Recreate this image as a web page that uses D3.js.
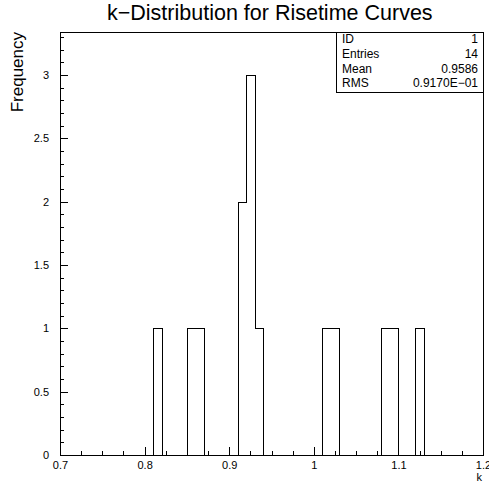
<!doctype html>
<html>
<head>
<script src="https://cdn.jsdelivr.net/npm/d3@7"></script>
<style>
  body { margin: 0; background: #fff; }
  text { font-family: "Liberation Sans", Arial, sans-serif; fill: #000; }
</style>
</head>
<body>
<svg width="489" height="483"></svg>
<script>
// histogram: 50 bins of 0.01 from 0.7 to 1.2
var xMin = 0.7, xMax = 1.2, binWidth = 0.01;
var counts = [
  0,0,0,0,0,0,0,0,0,0,   // 0.70 - 0.80
  0,1,0,0,0,1,1,0,0,0,   // 0.80 - 0.90
  0,2,3,1,0,0,0,0,0,0,   // 0.90 - 1.00
  0,1,1,0,0,0,0,0,1,1,   // 1.00 - 1.10
  0,0,1,0,0,0,0,0,0,0    // 1.10 - 1.20
];
var xTicks = [0.7, 0.8, 0.9, 1, 1.1, 1.2];
var yTicks = [0, 0.5, 1, 1.5, 2, 2.5, 3];
var yMax = 3.34;

var statLabels = ["ID", "Entries", "Mean", "RMS"];
var statValues = ["1", "14", "0.9586", "0.9170E\u221201"];

var svg = d3.select("svg"),
    padL = 60, padR = 483, padT = 32, padB = 455;

var xScale = d3.scaleLinear().domain([xMin, xMax]).range([padL, padR]),
    yScale = d3.scaleLinear().domain([0, yMax]).range([padB, padT]);

// title
svg.append("text")
  .attr("x", 107).attr("y", 20)
  .style("font-size", "21.5px")
  .text("k\u2212Distribution for Risetime Curves");

// axis labels
svg.append("text")
  .attr("text-anchor", "end")
  .attr("transform", "translate(23," + padT + ")rotate(-90)")
  .style("font-size", "17px")
  .text("Frequency");

svg.append("text")
  .attr("x", 482).attr("y", 481)
  .attr("text-anchor", "end")
  .style("font-size", "11px")
  .text("k");

// frame
svg.append("rect")
  .attr("x", padL + 0.5).attr("y", padT + 0.5)
  .attr("width", padR - padL).attr("height", padB - padT)
  .style("fill", "none").style("stroke", "#000")
  .style("shape-rendering", "crispEdges");

// minor ticks
var xMinor = d3.range(0, 21).map(function (i) { return xMin + i * 0.025; });
var yMinor = d3.range(0, 34).map(function (i) { return i * 0.1; });

svg.append("g")
  .attr("transform", "translate(0," + padB + ")")
  .call(d3.axisBottom(xScale).tickValues(xMinor).tickSize(-4).tickFormat(""))
  .call(function (g) { g.select(".domain").remove(); });

svg.append("g")
  .attr("transform", "translate(" + padL + ",0)")
  .call(d3.axisLeft(yScale).tickValues(yMinor).tickSize(-4).tickFormat(""))
  .call(function (g) { g.select(".domain").remove(); });

// major ticks + labels
var xAxis = svg.append("g")
  .attr("transform", "translate(0," + padB + ")")
  .call(d3.axisBottom(xScale).tickValues(xTicks).tickSize(-8).tickFormat(d3.format("")));
xAxis.select(".domain").remove();
xAxis.selectAll("text").attr("y", 6).style("font-size", "11px");

var yAxis = svg.append("g")
  .attr("transform", "translate(" + padL + ",0)")
  .call(d3.axisLeft(yScale).tickValues(yTicks).tickSize(-8).tickPadding(11).tickFormat(d3.format("")));
yAxis.select(".domain").remove();
yAxis.selectAll("text").style("font-size", "11px");

svg.selectAll(".tick line").style("shape-rendering", "crispEdges");

// histogram step line
var pts = [[xMin, 0]];
counts.forEach(function (c, i) {
  var x0 = xMin + i * binWidth;
  pts.push([x0, c], [x0 + binWidth, c]);
});
pts.push([xMax, 0]);

var line = d3.line()
  .x(function (d) { return Math.round(xScale(d[0])) + 0.5; })
  .y(function (d) { return Math.round(yScale(d[1])) + 0.5; });

svg.append("path")
  .datum(pts)
  .attr("d", line)
  .style("fill", "none")
  .style("stroke", "#000")
  .style("stroke-width", 1)
  .style("shape-rendering", "crispEdges");

// stats box
var box = svg.append("g");
box.append("rect")
  .attr("x", 336.5).attr("y", padT + 0.5)
  .attr("width", padR - 336).attr("height", 60)
  .style("fill", "#fff").style("stroke", "#000")
  .style("shape-rendering", "crispEdges");

statLabels.forEach(function (s, i) {
  box.append("text")
    .attr("x", 342).attr("y", 43 + i * 14.8)
    .style("font-size", "12px")
    .text(s);
  box.append("text")
    .attr("x", 478).attr("y", 43 + i * 14.8)
    .attr("text-anchor", "end")
    .style("font-size", "12px")
    .text(statValues[i]);
});
</script>
</body>
</html>
